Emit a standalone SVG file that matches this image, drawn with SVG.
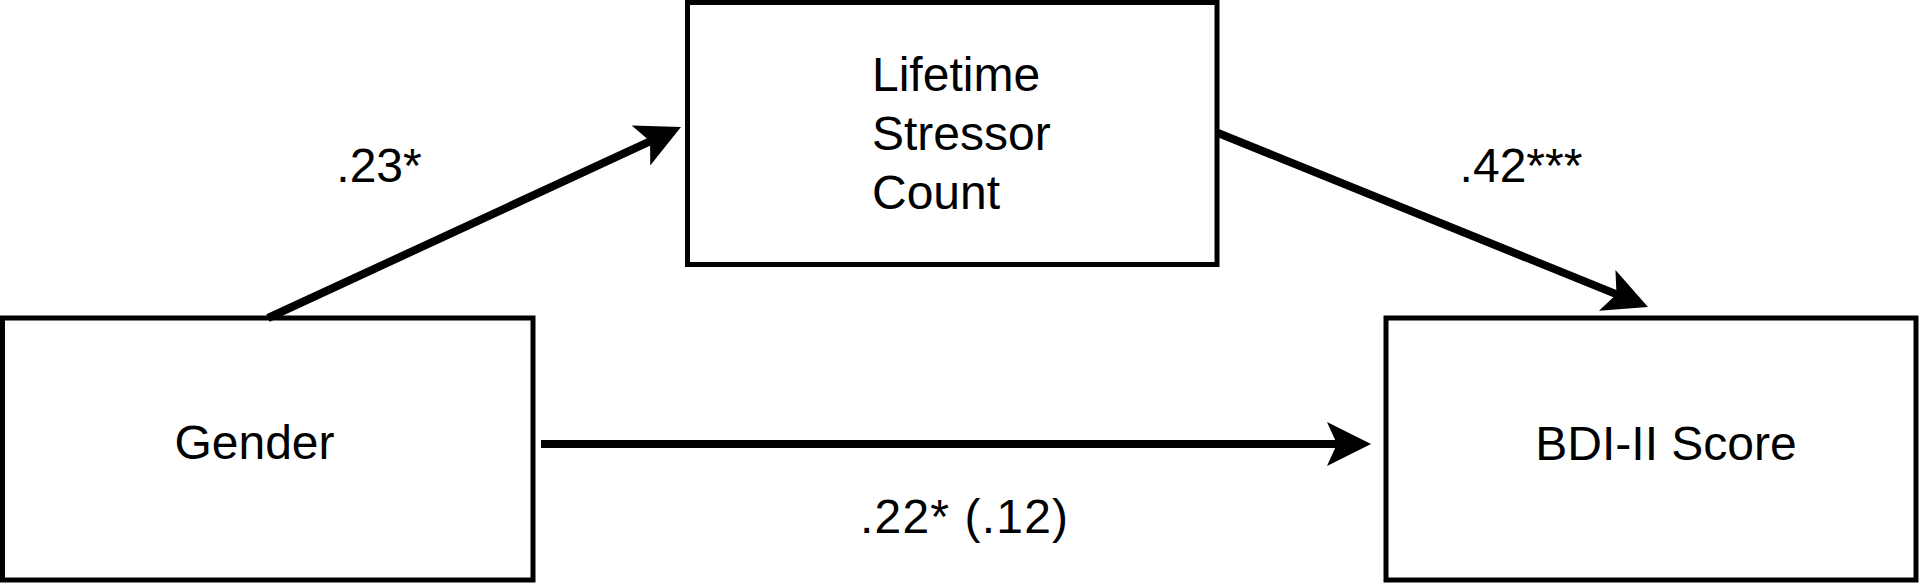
<svg xmlns="http://www.w3.org/2000/svg" width="1920" height="584" viewBox="0 0 1920 584">
<style>
.box{fill:#fff;stroke:#000;stroke-width:5}
.lbl{font-family:"Liberation Sans",Arial,sans-serif;font-size:48px;fill:#000}
.c{text-anchor:middle}
.edge{stroke:#000;stroke-width:8;fill:none;marker-end:url(#ah)}
</style>
<defs>
<marker id="ah" viewBox="0 0 44 44" refX="11" refY="22" markerWidth="44" markerHeight="44" markerUnits="userSpaceOnUse" orient="auto">
<path d="M0,0 L44,22 L0,44 L10,22 Z" fill="#000"/>
</marker>
</defs>
<rect width="1920" height="584" fill="#fff"/>
<g id="gender">
<rect class="box" x="2.5" y="318" width="530.5" height="262"/>
<text class="lbl c" x="254.5" y="459">Gender</text>
</g>
<g id="stressor">
<rect class="box" x="687.5" y="2.5" width="529.5" height="262"/>
<text class="lbl" x="872" y="91">Lifetime</text>
<text class="lbl" x="872" y="150">Stressor</text>
<text class="lbl" x="872" y="209">Count</text>
</g>
<g id="bdi">
<rect class="box" x="1386" y="318" width="530" height="262"/>
<text class="lbl c" x="1666" y="460">BDI-II Score</text>
</g>
<g id="connectors">
<line class="edge" x1="268" y1="318" x2="651" y2="140.9"/>
<line class="edge" x1="1218" y1="133" x2="1617.4" y2="294.6"/>
<line class="edge" x1="541" y1="444" x2="1338" y2="444"/>
<text class="lbl c" x="379" y="182">.23*</text>
<text class="lbl c" x="1521" y="182">.42***</text>
<text class="lbl" x="860" y="533" textLength="208" lengthAdjust="spacing">.22* (.12)</text>
</g>
</svg>
